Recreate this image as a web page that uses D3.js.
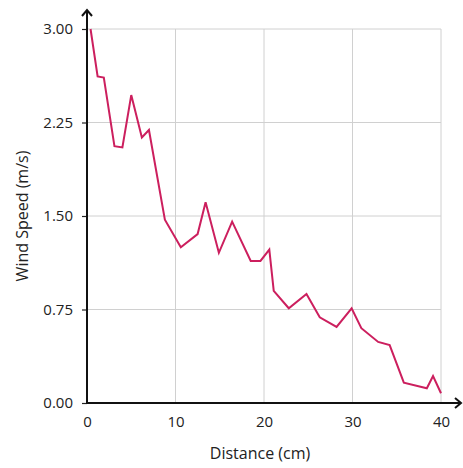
<!DOCTYPE html>
<html><head><meta charset="utf-8">
<script src="https://cdn.jsdelivr.net/npm/d3@7"></script>
<style>body{margin:0;background:#fff;} text{font-family:"Open Sans","Noto Sans",sans-serif;fill:#222;}</style>
</head><body><svg id="c" width="463" height="468"></svg>
<script>
const distance = [0.4,1.2,1.9,3.1,4.0,5.0,6.2,7.0,8.8,10.6,12.5,13.4,14.9,16.4,18.5,19.6,20.6,21.1,22.8,24.8,26.3,28.2,29.9,31.0,32.9,34.2,35.8,38.4,39.1,40.0];
const windSpeed = [3.00,2.62,2.61,2.06,2.05,2.47,2.13,2.19,1.47,1.25,1.355,1.61,1.205,1.455,1.14,1.14,1.23,0.90,0.76,0.874,0.687,0.61,0.76,0.60,0.49,0.465,0.163,0.118,0.216,0.078];
const xTicks = [0,10,20,30,40];
const yTicks = [0,0.75,1.5,2.25,3.0];

const svg = d3.select("#c");
const x = d3.scaleLinear().domain([0,40]).range([87,441]);
const y = d3.scaleLinear().domain([0,3]).range([403,29]);

// grid
svg.append("g").selectAll("line").data(xTicks.slice(1)).join("line")
  .attr("x1",d=>x(d)).attr("x2",d=>x(d)).attr("y1",y(3)).attr("y2",y(0))
  .attr("stroke","#d0d0d0").attr("stroke-width",1);
svg.append("g").selectAll("line").data(yTicks.slice(1)).join("line")
  .attr("x1",x(0)).attr("x2",x(40)).attr("y1",d=>y(d)).attr("y2",d=>y(d))
  .attr("stroke","#d0d0d0").attr("stroke-width",1);

// axes
const yAxis = d3.axisLeft(y).tickValues(yTicks).tickFormat(d3.format(".2f")).tickSize(5).tickPadding(9);
const xAxis = d3.axisBottom(x).tickValues(xTicks).tickFormat(d3.format("d")).tickSize(0).tickPadding(13);
const gy = svg.append("g").attr("transform",`translate(${x(0)},0)`).call(yAxis);
const gx = svg.append("g").attr("transform",`translate(0,${y(0)})`).call(xAxis);
[gy,gx].forEach(g=>{
  g.select(".domain").remove();
  g.selectAll("line").attr("stroke","#222").attr("stroke-width",1.2);
  g.selectAll("text").attr("font-size",15).attr("fill","#222").style("font-family","'Open Sans','Noto Sans',sans-serif");
});

// axis lines with arrows
svg.append("line").attr("x1",x(0)).attr("x2",x(0)).attr("y1",y(0)+1).attr("y2",10)
  .attr("stroke","#111").attr("stroke-width",2);
svg.append("path").attr("d",`M${x(0)-5},${16} L${x(0)},${10} L${x(0)+5},${16}`)
  .attr("fill","none").attr("stroke","#111").attr("stroke-width",2);
svg.append("line").attr("x1",x(0)-1).attr("x2",461).attr("y1",y(0)).attr("y2",y(0))
  .attr("stroke","#111").attr("stroke-width",2);
svg.append("path").attr("d",`M455,${y(0)-5} L461,${y(0)} L455,${y(0)+5}`)
  .attr("fill","none").attr("stroke","#111").attr("stroke-width",2);

// line
const line = d3.line().x((d,i)=>x(distance[i])).y(d=>y(d));
svg.append("path").datum(windSpeed).attr("d",line)
  .attr("fill","none").attr("stroke","#cc1f5e").attr("stroke-width",2).attr("stroke-linejoin","miter");

// titles
svg.append("text").attr("x",260).attr("y",459).attr("text-anchor","middle").attr("font-size",16).text("Distance (cm)");
svg.append("text").attr("transform",`translate(28,${y(1.5)}) rotate(-90)`).attr("text-anchor","middle").attr("font-size",16).text("Wind Speed (m/s)");
</script></body></html>
